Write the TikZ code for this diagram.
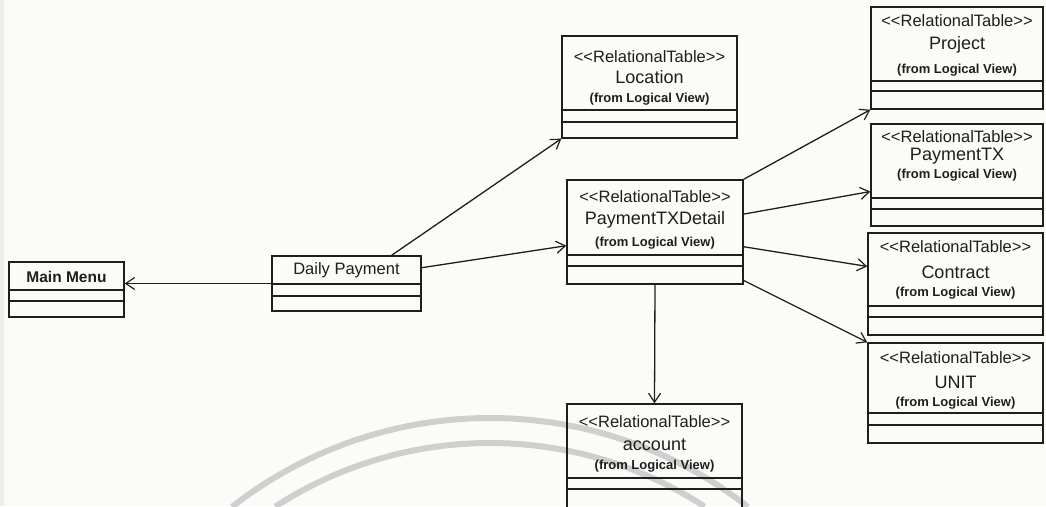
\documentclass[tikz,border=0pt]{standalone}
\usepackage{fontspec}
\setmainfont{Liberation Sans}
\usetikzlibrary{arrows.meta,fit,calc}

\definecolor{inkc}{HTML}{1E1E1E}
\definecolor{paperc}{HTML}{FBFBF8}
\definecolor{markc}{HTML}{CFCFCF}

\tikzset{
  ink/.style={draw=inkc, line width=1.4pt},
  tbl/.style={ink, inner sep=0pt},
  conn/.style={draw=inkc, line width=1.3pt,
    -{Straight Barb[length=9pt,width=12pt,line width=1.2pt]}},
  stereo/.style={inner sep=0pt, text=inkc, font=\fontsize{16.5}{18}\selectfont},
  tname/.style={inner sep=0pt, text=inkc, font=\fontsize{18}{20}\selectfont},
  origin/.style={inner sep=0pt, text=inkc, font=\bfseries\fontsize{13}{15}\selectfont},
  plain/.style={inner sep=0pt, text=inkc, font=\fontsize{16.5}{18}\selectfont},
  arcmark/.style={draw=markc, line width=6pt},
}

% class box: name, left, top, right, bottom, first divider, second divider
\newcommand{\classbox}[7]{%
  \coordinate (#1-nw) at (#2,#3);
  \coordinate (#1-se) at (#4,#5);
  \node[tbl, fit=(#1-nw)(#1-se)] (#1) {};
  \draw[ink] (#2,#6) -- (#4,#6) (#2,#7) -- (#4,#7);
}
% relational table caption: name, centre x, y of the three lines, table name
\newcommand{\reltext}[6]{%
  \node[stereo] (#1-st) at (#2,#3) {<\kern0pt<RelationalTable>\kern0pt>};
  \node[tname] (#1-nm) at (#2,#4) {#6};
  \node[origin] (#1-or) at (#2,#5) {(from Logical View)};
}

\begin{document}
\begin{tikzpicture}[x=1pt,y=-1pt]
  \useasboundingbox (0,0) rectangle (1046,506);
  \clip (0,0) rectangle (1046,506);
  \fill[paperc] (0,0) rectangle (1046,506);
  \fill[black!7] (0,0) rectangle (4,506);

  % faint double arc in the lower part of the sheet
  \draw[arcmark] (490,837) ++(-128:419) arc[start angle=-128, end angle=-52, radius=419];
  \draw[arcmark] (490,837) ++(-123:394) arc[start angle=-123, end angle=-57, radius=394];

  % boxes
  \classbox{mm}{9}{262}{124}{317}{290}{301}
  \node[plain, font=\bfseries\fontsize{15.5}{18}\selectfont] (mm-t) at (66.5,277) {Main Menu};

  \classbox{dp}{272}{256}{421}{311}{284}{296}
  \node[plain] (dp-t) at (346.5,270) {Daily Payment};

  \classbox{loc}{562}{36}{737}{138}{110}{122}
  \reltext{loc}{649.5}{57}{77}{99}{Location}

  \classbox{ptxd}{567}{180}{743}{284}{255}{266}
  \reltext{ptxd}{655}{197}{220}{243}{PaymentTXDetail}

  \classbox{proj}{871}{7}{1043}{109}{81}{91}
  \reltext{proj}{957}{21}{45}{70}{Project}

  \classbox{ptx}{871}{124}{1043}{226}{198}{209}
  \reltext{ptx}{957}{137}{156}{175}{PaymentTX}

  \classbox{con}{868}{233}{1043}{335}{306}{317}
  \reltext{con}{955.5}{247}{272}{293}{Contract}

  \classbox{unit}{868}{343}{1043}{443}{413}{425}
  \reltext{unit}{955.5}{358}{382}{403}{UNIT}

  \classbox{acc}{567}{404}{742}{512}{478}{489}
  \reltext{acc}{654.5}{422}{445}{466}{account}

  % connectors
  \draw[conn] (dp.west) -- (dp.west -| mm.east);
  \draw[conn] ($(dp.north west)!0.8!(dp.north east)$) -- (loc.south west);
  \draw[conn] ($(dp.north east)!0.22!(dp.south east)$) -- ($(ptxd.north west)!0.63!(ptxd.south west)$);
  \draw[conn] (ptxd.north east) -- (proj.south west);
  \draw[conn] ($(ptxd.north east)!0.33!(ptxd.south east)$) -- ($(ptx.north west)!0.66!(ptx.south west)$);
  \draw[conn] ($(ptxd.north east)!0.64!(ptxd.south east)$) -- ($(con.north west)!0.33!(con.south west)$);
  \draw[conn] ($(ptxd.north east)!0.96!(ptxd.south east)$) -- (unit.north west);
  \draw[conn] (ptxd.south) -- (acc.north);
\end{tikzpicture}
\end{document}
